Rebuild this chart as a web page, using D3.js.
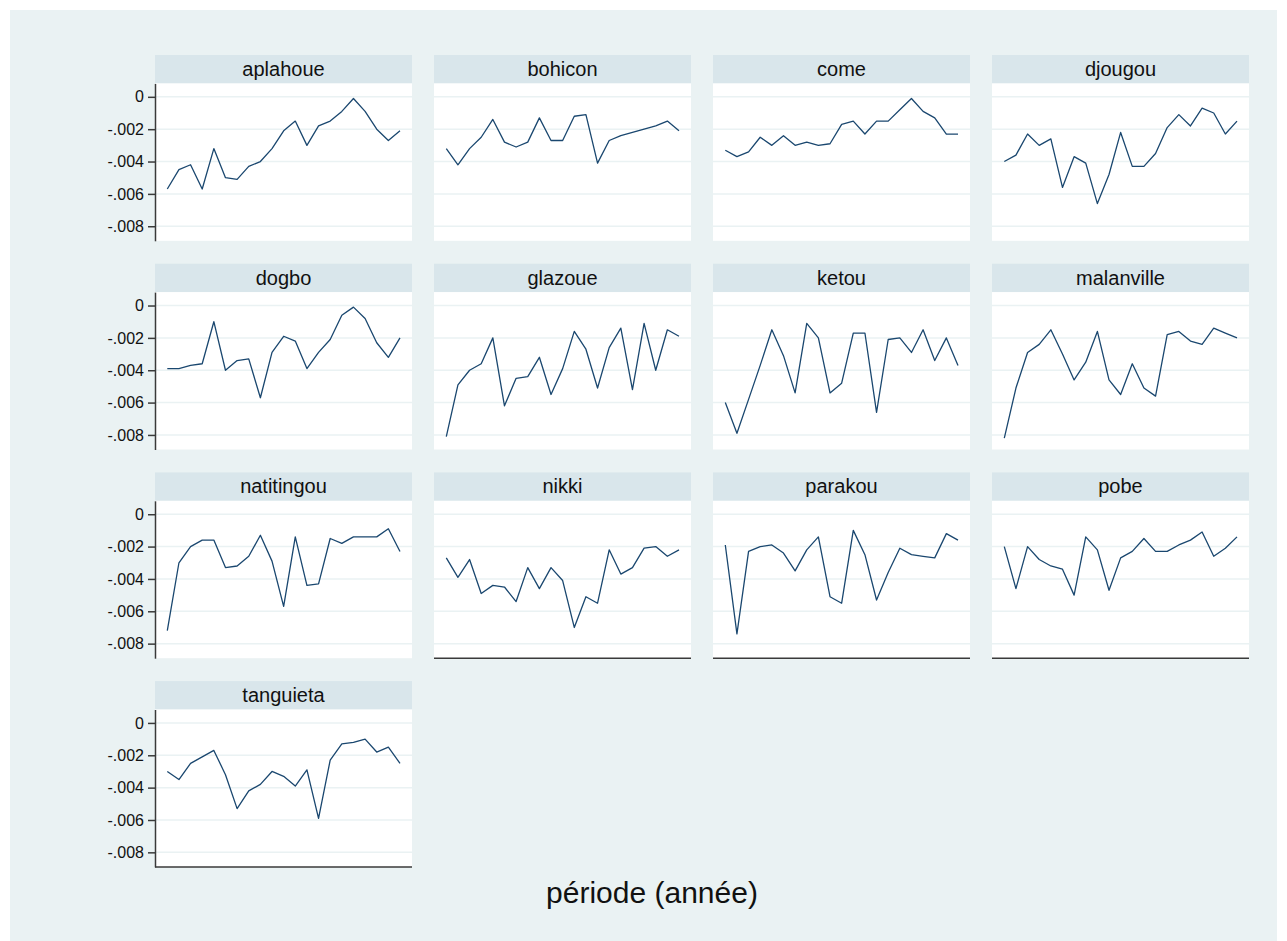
<!DOCTYPE html>
<html>
<head>
<meta charset="utf-8">
<script src="https://cdn.jsdelivr.net/npm/d3@7/dist/d3.min.js"></script>
<style>
  body { margin: 0; background: #ffffff; }
  svg { display: block; font-family: "Liberation Sans", Arial, sans-serif; }
</style>
</head>
<body>
<svg id="chart"></svg>
<script>
"use strict";

// /////// DATA

const communes = [
  "aplahoue", "bohicon", "come", "djougou",
  "dogbo", "glazoue", "ketou", "malanville",
  "natitingou", "nikki", "parakou", "pobe",
  "tanguieta",
];

// période index (21 years, no labels on the axis)
const periods = [1, 2, 3, 4, 5, 6, 7, 8, 9, 10, 11, 12, 13, 14, 15, 16, 17, 18, 19, 20, 21];

const yTicks = [0, -0.002, -0.004, -0.006, -0.008];
const yTickLabels = ["0", "-.002", "-.004", "-.006", "-.008"];

const aplahoue = [-0.0057, -0.0045, -0.0042, -0.0057, -0.0032, -0.0050, -0.0051, -0.0043, -0.0040, -0.0032, -0.0021, -0.0015, -0.0030, -0.0018, -0.0015, -0.0009, -0.0001, -0.0009, -0.0020, -0.0027, -0.0021];
const bohicon = [-0.0032, -0.0042, -0.0032, -0.0025, -0.0014, -0.0028, -0.0031, -0.0028, -0.0013, -0.0027, -0.0027, -0.0012, -0.0011, -0.0041, -0.0027, -0.0024, -0.0022, -0.0020, -0.0018, -0.0015, -0.0021];
const come = [-0.0033, -0.0037, -0.0034, -0.0025, -0.0030, -0.0024, -0.0030, -0.0028, -0.0030, -0.0029, -0.0017, -0.0015, -0.0023, -0.0015, -0.0015, -0.0008, -0.0001, -0.0009, -0.0013, -0.0023, -0.0023];
const djougou = [-0.0040, -0.0036, -0.0023, -0.0030, -0.0026, -0.0056, -0.0037, -0.0041, -0.0066, -0.0048, -0.0022, -0.0043, -0.0043, -0.0035, -0.0019, -0.0011, -0.0018, -0.0007, -0.0010, -0.0023, -0.0015];
const dogbo = [-0.0039, -0.0039, -0.0037, -0.0036, -0.0010, -0.0040, -0.0034, -0.0033, -0.0057, -0.0029, -0.0019, -0.0022, -0.0039, -0.0029, -0.0021, -0.0006, -0.0001, -0.0008, -0.0023, -0.0032, -0.0020];
const glazoue = [-0.0081, -0.0049, -0.0040, -0.0036, -0.0020, -0.0062, -0.0045, -0.0044, -0.0032, -0.0055, -0.0039, -0.0016, -0.0027, -0.0051, -0.0026, -0.0014, -0.0052, -0.0011, -0.0040, -0.0015, -0.0019];
const ketou = [-0.0060, -0.0079, -0.0058, -0.0037, -0.0015, -0.0031, -0.0054, -0.0011, -0.0020, -0.0054, -0.0048, -0.0017, -0.0017, -0.0066, -0.0021, -0.0020, -0.0029, -0.0015, -0.0034, -0.0020, -0.0037];
const malanville = [-0.0082, -0.0051, -0.0029, -0.0024, -0.0015, -0.0030, -0.0046, -0.0035, -0.0016, -0.0046, -0.0055, -0.0036, -0.0051, -0.0056, -0.0018, -0.0016, -0.0022, -0.0024, -0.0014, -0.0017, -0.0020];
const natitingou = [-0.0072, -0.0030, -0.0020, -0.0016, -0.0016, -0.0033, -0.0032, -0.0026, -0.0013, -0.0029, -0.0057, -0.0014, -0.0044, -0.0043, -0.0015, -0.0018, -0.0014, -0.0014, -0.0014, -0.0009, -0.0023];
const nikki = [-0.0027, -0.0039, -0.0028, -0.0049, -0.0044, -0.0045, -0.0054, -0.0033, -0.0046, -0.0033, -0.0041, -0.0070, -0.0051, -0.0055, -0.0022, -0.0037, -0.0033, -0.0021, -0.0020, -0.0026, -0.0022];
const parakou = [-0.0019, -0.0074, -0.0023, -0.0020, -0.0019, -0.0024, -0.0035, -0.0022, -0.0014, -0.0051, -0.0055, -0.0010, -0.0025, -0.0053, -0.0036, -0.0021, -0.0025, -0.0026, -0.0027, -0.0012, -0.0016];
const pobe = [-0.0020, -0.0046, -0.0020, -0.0028, -0.0032, -0.0034, -0.0050, -0.0014, -0.0022, -0.0047, -0.0027, -0.0023, -0.0015, -0.0023, -0.0023, -0.0019, -0.0016, -0.0011, -0.0026, -0.0021, -0.0014];
const tanguieta = [-0.0030, -0.0035, -0.0025, -0.0021, -0.0017, -0.0032, -0.0053, -0.0042, -0.0038, -0.0030, -0.0033, -0.0039, -0.0029, -0.0059, -0.0023, -0.0013, -0.0012, -0.0010, -0.0018, -0.0015, -0.0025];

const seriesValues = [
  aplahoue, bohicon, come, djougou,
  dogbo, glazoue, ketou, malanville,
  natitingou, nikki, parakou, pobe,
  tanguieta,
];

// /////// LAYOUT

const width = 1287;
const height = 941;

const nCols = 4;
const colStart = 155;
const colStep = 279;
const rowStart = 55;
const rowStep = 208.7;
const panelW = 257;
const stripH = 28.4;
const plotH = 157.4;

const colors = {
  graph: "#eaf2f3",
  strip: "#d9e6eb",
  plot: "#ffffff",
  grid: "#eaf2f3",
  axis: "#3a3a3a",
  line: "#1a476f",
  text: "#111111",
};

const svg = d3.select("#chart").attr("width", width).attr("height", height);

// Graph region background
svg
  .append("rect")
  .attr("x", 10)
  .attr("y", 10)
  .attr("width", 1267)
  .attr("height", 931)
  .attr("fill", colors.graph);

// Shared scales (every panel uses the same ones)
const x = d3
  .scaleLinear()
  .domain([periods[0], periods[periods.length - 1]])
  .range([12.3, panelW - 12]);

const y = d3.scaleLinear().domain([-0.0089, 0.00083]).range([plotH, 0]);

const line = d3
  .line()
  .x((d, i) => x(periods[i]))
  .y((d) => y(d));

// Panels
communes.forEach((name, i) => {
  const col = i % nCols;
  const row = Math.floor(i / nCols);
  const hasBelow = i + nCols < communes.length;

  const panel = svg
    .append("g")
    .attr("transform", `translate(${colStart + col * colStep}, ${rowStart + row * rowStep})`);

  // Strip with commune name
  panel
    .append("rect")
    .attr("width", panelW)
    .attr("height", stripH)
    .attr("fill", colors.strip);

  panel
    .append("text")
    .attr("x", panelW / 2)
    .attr("y", 21)
    .attr("text-anchor", "middle")
    .attr("font-size", 20)
    .attr("fill", colors.text)
    .text(name);

  const plot = panel.append("g").attr("transform", `translate(0, ${stripH})`);

  plot
    .append("rect")
    .attr("width", panelW)
    .attr("height", plotH)
    .attr("fill", colors.plot);

  // Gridlines
  plot
    .selectAll(".grid")
    .data(yTicks)
    .join("line")
    .attr("class", "grid")
    .attr("x1", 0)
    .attr("x2", panelW)
    .attr("y1", (d) => y(d))
    .attr("y2", (d) => y(d))
    .attr("stroke", colors.grid)
    .attr("stroke-width", 1.5);

  // Series
  plot
    .append("path")
    .datum(seriesValues[i])
    .attr("d", line)
    .attr("fill", "none")
    .attr("stroke", colors.line)
    .attr("stroke-width", 1.3)
    .attr("stroke-linejoin", "round");

  // Left axis only on the first column
  if (col === 0) {
    const yAxis = plot
      .append("g")
      .call(
        d3
          .axisLeft(y)
          .tickValues(yTicks)
          .tickFormat((d, k) => yTickLabels[k])
          .tickSize(7)
          .tickSizeOuter(0)
          .tickPadding(4)
      );
    yAxis.selectAll("path, line").attr("stroke", colors.axis).attr("stroke-width", 1.5);
    yAxis
      .selectAll("text")
      .attr("font-size", 16)
      .attr("font-family", "Liberation Sans, Arial, sans-serif")
      .attr("fill", colors.text);
  }

  // Bottom axis line where nothing sits below
  if (!hasBelow) {
    plot
      .append("line")
      .attr("x1", 0)
      .attr("x2", panelW)
      .attr("y1", plotH)
      .attr("y2", plotH)
      .attr("stroke", colors.axis)
      .attr("stroke-width", 1.5);
  }
});

// Axis title
svg
  .append("text")
  .attr("x", 652)
  .attr("y", 903)
  .attr("text-anchor", "middle")
  .attr("font-size", 30)
  .attr("fill", colors.text)
  .text("période (année)");
</script>
</body>
</html>
